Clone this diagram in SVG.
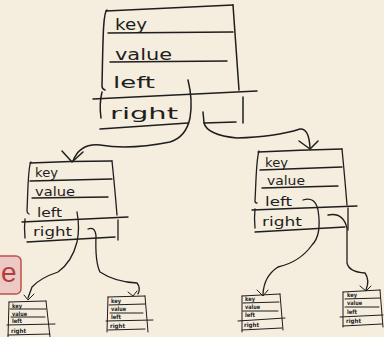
<svg xmlns="http://www.w3.org/2000/svg" width="384" height="337" viewBox="0 0 384 337">
  <style>
    .ink { fill: none; stroke: #1e1e1e; stroke-linecap: round; stroke-linejoin: round; }
    .big { stroke-width: 1.5; }
    .mid { stroke-width: 1.3; }
    .sm { stroke-width: 1; }
    .lbl { font-family: "DejaVu Sans", sans-serif; fill: #1e1e1e; }
    .l16 { font-size: 16px; }
    .l12 { font-size: 12px; }
    .l6 { font-size: 6px; font-weight: bold; }
  </style>
  <rect width="384" height="337" fill="#f5eddd"/>

  <!-- tag box at the left edge -->
  <g id="tag">
    <rect x="-10" y="256" width="31" height="38" rx="5" fill="#ecc9c5" stroke="#c0504d" stroke-width="1.5"/>
    <text x="1" y="282" font-family="Liberation Sans, sans-serif" font-size="28" fill="#b23e3a">e</text>
  </g>

  <!-- root record -->
  <g id="root">
    <path class="ink big" d="M106,11 Q170,8 233,5"/>
    <path class="ink big" d="M107,10 C103,12 103,40 102,86 Q102,89 105,90"/>
    <path class="ink big" d="M233,5 Q236,50 239,90"/>
    <path class="ink big" d="M108,33 L233,32"/>
    <path class="ink big" d="M110,62 L227,61"/>
    <path class="ink big" d="M93,99 L257,91"/>
    <path class="ink big" d="M102,92 Q99,104 101,118"/>
    <path class="ink big" d="M100,129 L188,123"/>
    <path class="ink big" d="M204,123 L236,122"/>
    <path class="ink big" d="M243,97 L243,123"/>
    <text class="lbl l16" x="115" y="30" textLength="32" lengthAdjust="spacingAndGlyphs">key</text>
    <text class="lbl l16" x="115" y="60" textLength="57" lengthAdjust="spacingAndGlyphs">value</text>
    <text class="lbl l16" x="113" y="88" textLength="42" lengthAdjust="spacingAndGlyphs">left</text>
    <text class="lbl l16" x="110" y="119" textLength="68" lengthAdjust="spacingAndGlyphs">right</text>
  </g>

  <!-- left child record -->
  <g id="left-child">
    <path class="ink mid" d="M30,163 Q70,161 112,161"/>
    <path class="ink mid" d="M31,162 C28,165 28,190 27,211 Q27,213 29,214"/>
    <path class="ink mid" d="M112,161 Q115,190 117,215"/>
    <path class="ink mid" d="M30,181 L112,179"/>
    <path class="ink mid" d="M32,198 L108,197"/>
    <path class="ink mid" d="M22,222 L128,217"/>
    <path class="ink mid" d="M25,219 Q24,228 25,238"/>
    <path class="ink mid" d="M27,242 L115,237"/>
    <path class="ink mid" d="M118,220 L118,240"/>
    <text class="lbl l12" x="35" y="177" textLength="23" lengthAdjust="spacingAndGlyphs">key</text>
    <text class="lbl l12" x="35" y="196" textLength="40" lengthAdjust="spacingAndGlyphs">value</text>
    <text class="lbl l12" x="37" y="217" textLength="25" lengthAdjust="spacingAndGlyphs">left</text>
    <text class="lbl l12" x="33" y="236" textLength="39" lengthAdjust="spacingAndGlyphs">right</text>
  </g>

  <!-- right child record -->
  <g id="right-child">
    <path class="ink mid" d="M258,152 Q300,150 342,149"/>
    <path class="ink mid" d="M259,151 C256,160 256,185 255,201 Q255,203 257,203"/>
    <path class="ink mid" d="M342,149 Q345,180 347,205"/>
    <path class="ink mid" d="M260,170 L342,167"/>
    <path class="ink mid" d="M262,188 L338,186"/>
    <path class="ink mid" d="M252,210 L357,206"/>
    <path class="ink mid" d="M255,209 Q254,218 255,228"/>
    <path class="ink mid" d="M255,232 L345,227"/>
    <path class="ink mid" d="M348,208 L348,230"/>
    <text class="lbl l12" x="265" y="167" textLength="23" lengthAdjust="spacingAndGlyphs">key</text>
    <text class="lbl l12" x="267" y="185" textLength="38" lengthAdjust="spacingAndGlyphs">value</text>
    <text class="lbl l12" x="265" y="206" textLength="27" lengthAdjust="spacingAndGlyphs">left</text>
    <text class="lbl l12" x="262" y="226" textLength="40" lengthAdjust="spacingAndGlyphs">right</text>
  </g>

  <!-- leaf records -->
  <g id="leaf-1">
    <path class="ink sm" d="M9,302 L46,301"/>
    <path class="ink sm" d="M9,302 L8,337"/>
    <path class="ink sm" d="M46,301 L50,337"/>
    <path class="ink sm" d="M10,309 L46,309"/>
    <path class="ink sm" d="M11,317 L45,317"/>
    <path class="ink sm" d="M7,325 L55,324"/>
    <path class="ink sm" d="M8,335 L50,334"/>
    <text class="lbl l6" x="12" y="308" textLength="10" lengthAdjust="spacingAndGlyphs">key</text>
    <text class="lbl l6" x="12" y="316" textLength="15" lengthAdjust="spacingAndGlyphs">value</text>
    <text class="lbl l6" x="12" y="323" textLength="10" lengthAdjust="spacingAndGlyphs">left</text>
    <text class="lbl l6" x="11" y="333" textLength="15" lengthAdjust="spacingAndGlyphs">right</text>
  </g>
  <g id="leaf-2">
    <path class="ink sm" d="M108,297 L145,296"/>
    <path class="ink sm" d="M108,297 L107,332"/>
    <path class="ink sm" d="M145,296 L148,332"/>
    <path class="ink sm" d="M109,305 L145,304"/>
    <path class="ink sm" d="M110,313 L143,313"/>
    <path class="ink sm" d="M106,321 L153,320"/>
    <path class="ink sm" d="M108,330 L145,329"/>
    <text class="lbl l6" x="111" y="303" textLength="10" lengthAdjust="spacingAndGlyphs">key</text>
    <text class="lbl l6" x="111" y="311" textLength="15" lengthAdjust="spacingAndGlyphs">value</text>
    <text class="lbl l6" x="111" y="319" textLength="10" lengthAdjust="spacingAndGlyphs">left</text>
    <text class="lbl l6" x="110" y="328" textLength="15" lengthAdjust="spacingAndGlyphs">right</text>
  </g>
  <g id="leaf-3">
    <path class="ink sm" d="M242,296 L280,294"/>
    <path class="ink sm" d="M242,296 L242,332"/>
    <path class="ink sm" d="M280,294 L283,330"/>
    <path class="ink sm" d="M243,303 L279,302"/>
    <path class="ink sm" d="M243,311 L278,311"/>
    <path class="ink sm" d="M238,321 L285,318"/>
    <path class="ink sm" d="M242,330 L282,328"/>
    <text class="lbl l6" x="245" y="301" textLength="10" lengthAdjust="spacingAndGlyphs">key</text>
    <text class="lbl l6" x="245" y="309" textLength="15" lengthAdjust="spacingAndGlyphs">value</text>
    <text class="lbl l6" x="245" y="317" textLength="10" lengthAdjust="spacingAndGlyphs">left</text>
    <text class="lbl l6" x="244" y="327" textLength="15" lengthAdjust="spacingAndGlyphs">right</text>
  </g>
  <g id="leaf-4">
    <path class="ink sm" d="M343,292 L380,290"/>
    <path class="ink sm" d="M343,292 L343,327"/>
    <path class="ink sm" d="M380,290 L383,327"/>
    <path class="ink sm" d="M345,299 L380,298"/>
    <path class="ink sm" d="M345,307 L379,307"/>
    <path class="ink sm" d="M340,317 L383,315"/>
    <path class="ink sm" d="M343,326 L382,324"/>
    <text class="lbl l6" x="347" y="297" textLength="10" lengthAdjust="spacingAndGlyphs">key</text>
    <text class="lbl l6" x="347" y="305" textLength="15" lengthAdjust="spacingAndGlyphs">value</text>
    <text class="lbl l6" x="347" y="314" textLength="10" lengthAdjust="spacingAndGlyphs">left</text>
    <text class="lbl l6" x="346" y="323" textLength="15" lengthAdjust="spacingAndGlyphs">right</text>
  </g>

  <!-- pointer connectors with open V heads -->
  <g id="connectors">
    <path class="ink big" d="M188,80 Q193,100 190,118 Q186,137 170,142 Q130,150 100,145 Q80,143 73,161"/>
    <path class="ink big" d="M62,151 L72,162 L83,152"/>
    <path class="ink big" d="M203,112 L204,123 Q207,135 237,138 Q275,137 300,129 Q309,128 310,148"/>
    <path class="ink big" d="M299,141 L310,149 L318,141"/>
    <path class="ink mid" d="M77,212 Q80,228 77,242 Q72,262 58,272 Q40,278 32,287 L28,298"/>
    <path class="ink sm" d="M24,295 L28,300 L34,294"/>
    <path class="ink mid" d="M88,229 Q95,226 96,236 Q95,262 100,272 Q115,282 137,283 Q141,288 138,294"/>
    <path class="ink sm" d="M128,292 L133,296 L137,291"/>
    <path class="ink mid" d="M303,200 Q315,196 318,210 Q322,235 312,245 Q300,262 278,267 Q264,276 263,294"/>
    <path class="ink sm" d="M257,290 L263,296 L268,290"/>
    <path class="ink mid" d="M328,215 Q343,212 347,228 L347,263 Q349,272 365,273 Q370,280 366,290"/>
    <path class="ink sm" d="M360,286 L366,291 L371,286"/>
  </g>
</svg>
